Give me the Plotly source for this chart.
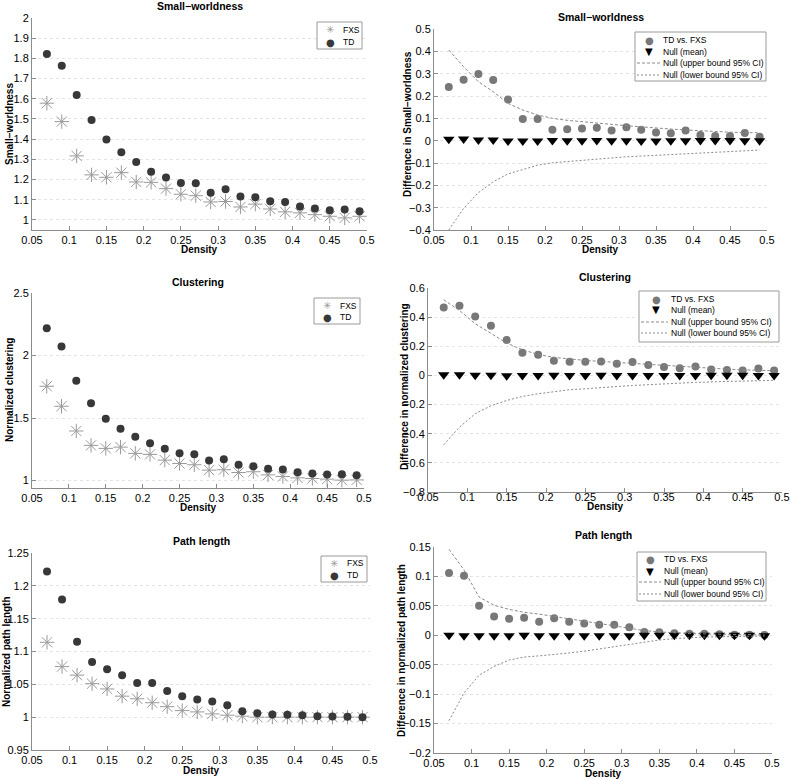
import plotly.graph_objects as go

density = [0.07, 0.09, 0.11, 0.13, 0.15, 0.17, 0.19, 0.21, 0.23, 0.25, 0.27,
           0.29, 0.31, 0.33, 0.35, 0.37, 0.39, 0.41, 0.43, 0.45, 0.47, 0.49]

# Small-worldness
sw_fxs = [1.578, 1.487, 1.317, 1.223, 1.211, 1.234, 1.188, 1.186, 1.155, 1.127, 1.120,
          1.089, 1.091, 1.064, 1.078, 1.054, 1.040, 1.035, 1.026, 1.018, 1.010, 1.018]
sw_td = [1.822, 1.764, 1.619, 1.495, 1.398, 1.335, 1.287, 1.238, 1.210, 1.183, 1.182,
         1.135, 1.152, 1.116, 1.112, 1.092, 1.089, 1.066, 1.056, 1.048, 1.051, 1.043]
sw_diff = [0.240, 0.273, 0.298, 0.272, 0.184, 0.097, 0.097, 0.049, 0.051, 0.054, 0.058,
           0.046, 0.060, 0.049, 0.037, 0.033, 0.046, 0.025, 0.021, 0.021, 0.034, 0.018]
sw_null = [0.006, 0.008, 0.003, 0.003, -0.002, -0.001, -0.002, 0.001, 0.000, 0.000, 0.001,
           0.000, 0.000, -0.001, -0.001, 0.000, 0.000, 0.001, 0.001, 0.001, 0.000, 0.000]
sw_upper = [0.406, 0.331, 0.264, 0.219, 0.167, 0.137, 0.115, 0.100, 0.091, 0.084, 0.078,
            0.073, 0.067, 0.061, 0.057, 0.052, 0.048, 0.044, 0.041, 0.038, 0.036, 0.035]
sw_lower = [-0.400, -0.303, -0.233, -0.184, -0.149, -0.128, -0.110, -0.099, -0.093, -0.088, -0.082,
            -0.075, -0.072, -0.069, -0.066, -0.063, -0.060, -0.057, -0.054, -0.051, -0.045, -0.042]

# Clustering
cl_fxs = [1.754, 1.594, 1.396, 1.281, 1.257, 1.267, 1.217, 1.209, 1.163, 1.136, 1.126,
          1.083, 1.086, 1.064, 1.070, 1.045, 1.032, 1.021, 1.016, 1.011, 1.003, 1.005]
cl_td = [2.219, 2.072, 1.799, 1.618, 1.495, 1.414, 1.350, 1.299, 1.254, 1.219, 1.211,
         1.160, 1.171, 1.126, 1.115, 1.094, 1.088, 1.067, 1.056, 1.048, 1.051, 1.043]
cl_diff = [0.467, 0.478, 0.405, 0.341, 0.243, 0.156, 0.142, 0.101, 0.094, 0.094, 0.096,
           0.080, 0.092, 0.071, 0.057, 0.050, 0.062, 0.041, 0.037, 0.034, 0.048, 0.034]
cl_null = [0.005, 0.005, 0.002, 0.001, -0.002, 0.000, -0.001, 0.001, 0.000, 0.000, 0.001,
           0.000, 0.000, -0.001, -0.001, 0.000, 0.000, 0.001, 0.001, 0.001, 0.000, 0.000]
cl_upper = [0.519, 0.446, 0.355, 0.286, 0.222, 0.176, 0.144, 0.124, 0.112, 0.103, 0.096,
            0.089, 0.082, 0.076, 0.069, 0.062, 0.055, 0.048, 0.043, 0.039, 0.034, 0.032]
cl_lower = [-0.476, -0.355, -0.263, -0.208, -0.172, -0.144, -0.126, -0.110, -0.098, -0.092, -0.082,
            -0.076, -0.069, -0.062, -0.057, -0.053, -0.048, -0.043, -0.041, -0.039, -0.037, -0.034]

# Path length
pl_fxs = [1.114, 1.077, 1.064, 1.051, 1.043, 1.032, 1.028, 1.022, 1.016, 1.010, 1.008,
          1.005, 1.003, 1.0015, 1.000, 1.000, 1.000, 1.000, 1.000, 1.000, 1.000, 1.000]
pl_td = [1.222, 1.179, 1.115, 1.084, 1.073, 1.064, 1.052, 1.052, 1.040, 1.032, 1.027,
         1.024, 1.018, 1.009, 1.006, 1.004, 1.0036, 1.003, 1.0015, 1.001, 1.0005, 1.000]
pl_diff = [0.106, 0.101, 0.050, 0.032, 0.028, 0.030, 0.023, 0.029, 0.023, 0.020, 0.018,
           0.018, 0.0136, 0.0056, 0.005, 0.0034, 0.0028, 0.0028, 0.0017, 0.001, 0.001, 0.0005]
pl_null = [0.000, -0.001, -0.001, -0.001, -0.001, 0.000, -0.001, -0.001, -0.001, -0.001, -0.001,
           -0.001, -0.001, 0.000, 0.000, 0.000, 0.000, 0.000, 0.000, 0.000, 0.000, -0.001]
pl_upper = [0.146, 0.111, 0.065, 0.051, 0.044, 0.039, 0.036, 0.032, 0.027, 0.023, 0.020,
            0.016, 0.012, 0.008, 0.0056, 0.004, 0.003, 0.0023, 0.0017, 0.0012, 0.0008, 0.0006]
pl_lower = [-0.145, -0.098, -0.068, -0.053, -0.042, -0.037, -0.035, -0.033, -0.030, -0.027, -0.023,
            -0.019, -0.016, -0.011, -0.008, -0.0056, -0.004, -0.003, -0.0025, -0.002, -0.0015, -0.0012]

titles = ["Small\u2212worldness", "Small\u2212worldness", "Clustering", "Clustering",
          "Path length", "Path length"]
ylabels = ["Small\u2212worldness", "Difference in Small\u2212worldness",
           "Normalized clustering", "Difference in normalized clustering",
           "Normalized path length", "Difference in normalized path length"]
xlabel = "Density"
left_names = ["FXS", "TD"]
right_names = ["TD vs. FXS", "Null (mean)", "Null (upper bound 95% CI)", "Null (lower bound 95% CI)"]

FONT = "Liberation Sans, Arial, Helvetica, sans-serif"
SYMFONT = "DejaVu Sans, sans-serif"
W, H = 790, 780

C_TD = "#383838"
C_FXS = "#9a9a9a"
C_DIFF = "#787878"
C_NULL = "black"
C_CI = "#8a8a8a"
C_AX = "#8c8c8c"

# panel geometry in window pixels: (left, right, top, bottom)
boxes = [(32, 367, 18, 230), (434, 767, 29, 230),
         (32, 364, 293, 488), (428, 782, 288, 492),
         (32, 370, 553, 750), (434, 772, 547, 753)]
yranges = [[0.95, 2.0], [-0.4, 0.5], [0.94, 2.5], [-0.8, 0.6], [0.95, 1.25], [-0.2, 0.15]]
ydticks = [0.1, 0.1, 0.5, 0.2, 0.05, 0.05]
xlabel_standoff = [0, 0, 0, -5, 0, 0]
title_y = [6, 17, 282, 277, 541, 535]
xlab_y = [250, 250, 507, 506, 770, 773]
ylab_pos = [(10, 124), (408, 124), (9, 390), (404, 386), (6, 652), (401, 651)]

# legend geometry (window px): box (x0, y0, x1, y1), symbol column x, text column x, row centres
legends = [
    dict(box=(317, 22, 362, 49), sx=330, tx=342, rows=[30, 42]),
    dict(box=(635, 32, 766, 81), sx=649, tx=662, rows=[40, 52, 63, 75]),
    dict(box=(314, 298, 360, 324), sx=327, tx=339, rows=[306, 317]),
    dict(box=(639, 291, 779, 342), sx=656, tx=670, rows=[299, 310, 322, 333]),
    dict(box=(321, 556, 367, 582), sx=334, tx=346, rows=[563, 575]),
    dict(box=(637, 552, 766, 601), sx=650, tx=663, rows=[559, 571, 582, 594]),
]

fig = go.Figure()

left_data = [(sw_fxs, sw_td), (cl_fxs, cl_td), (pl_fxs, pl_td)]
right_data = [(sw_diff, sw_null, sw_upper, sw_lower), (cl_diff, cl_null, cl_upper, cl_lower),
              (pl_diff, pl_null, pl_upper, pl_lower)]

for i in range(6):
    ax = "" if i == 0 else str(i + 1)
    xref, yref = "x" + ax, "y" + ax
    if i % 2 == 0:
        fxs, td = left_data[i // 2]
        fig.add_trace(go.Scatter(x=density, y=fxs, mode="markers", name=left_names[0],
                                 marker=dict(symbol="asterisk-open", size=12, color=C_FXS,
                                             line=dict(color=C_FXS, width=1)),
                                 xaxis=xref, yaxis=yref, showlegend=False))
        fig.add_trace(go.Scatter(x=density, y=td, mode="markers", name=left_names[1],
                                 marker=dict(symbol="circle", size=8, color=C_TD),
                                 xaxis=xref, yaxis=yref, showlegend=False))
    else:
        diff, null, up, lo = right_data[i // 2]
        fig.add_trace(go.Scatter(x=density, y=diff, mode="markers", name=right_names[0],
                                 marker=dict(symbol="circle", size=8, color=C_DIFF),
                                 xaxis=xref, yaxis=yref, showlegend=False))
        fig.add_trace(go.Scatter(x=density, y=null, mode="markers", name=right_names[1],
                                 marker=dict(symbol="triangle-down", size=10, color=C_NULL),
                                 xaxis=xref, yaxis=yref, showlegend=False))
        fig.add_trace(go.Scatter(x=density, y=up, mode="lines", name=right_names[2],
                                 line=dict(color=C_CI, width=1, dash="3px,2px"),
                                 xaxis=xref, yaxis=yref, showlegend=False))
        fig.add_trace(go.Scatter(x=density, y=lo, mode="lines", name=right_names[3],
                                 line=dict(color=C_CI, width=1, dash="2px,2px"),
                                 xaxis=xref, yaxis=yref, showlegend=False))

layout = dict(width=W, height=H, margin=dict(l=0, r=0, t=0, b=0, autoexpand=False),
              paper_bgcolor="white", plot_bgcolor="white",
              font=dict(family=FONT, size=11, color="black"), showlegend=False)

annotations = []
shapes = []


def px(x):
    return x / W


def py(y):
    return 1 - y / H


for i in range(6):
    ax = "" if i == 0 else str(i + 1)
    l, r, t, b = boxes[i]
    layout["xaxis" + ax] = dict(
        domain=[px(l), px(r)], range=[0.05, 0.5], dtick=0.05, tick0=0.05,
        anchor="y" + ax, showline=True, linecolor=C_AX, linewidth=1, automargin=False,
        ticks="inside", ticklen=4, tickcolor=C_AX, showgrid=False, zeroline=False,
        ticklabelstandoff=xlabel_standoff[i],
        tickfont=dict(size=11, family=FONT))
    layout["yaxis" + ax] = dict(
        domain=[py(b), py(t)], range=yranges[i], dtick=ydticks[i],
        anchor="x" + ax, showline=True, linecolor=C_AX, linewidth=1, automargin=False,
        ticks="inside", ticklen=4, tickcolor=C_AX, showgrid=True,
        gridcolor="#e4e4e4", griddash="dot", gridwidth=1, zeroline=False,
        tickfont=dict(size=11, family=FONT))
    annotations.append(dict(text=titles[i], x=px((l + r) / 2), y=py(title_y[i]),
                            xref="paper", yref="paper", showarrow=False,
                            xanchor="center", yanchor="middle",
                            font=dict(size=10.5, family=FONT, weight="bold")))
    annotations.append(dict(text=xlabel, x=px((l + r) / 2), y=py(xlab_y[i]),
                            xref="paper", yref="paper", showarrow=False,
                            xanchor="center", yanchor="middle", borderpad=0,
                            font=dict(size=10, family=FONT, weight="bold")))
    yx, yy = ylab_pos[i]
    annotations.append(dict(text=ylabels[i], x=px(yx), y=py(yy), textangle=-90,
                            xref="paper", yref="paper", showarrow=False,
                            xanchor="center", yanchor="middle",
                            font=dict(size=10, family=FONT, weight="bold")))

    # legend
    lg = legends[i]
    x0, y0, x1, y1 = lg["box"]
    shapes.append(dict(type="rect", xref="paper", yref="paper",
                       x0=px(x0), x1=px(x1), y0=py(y1), y1=py(y0),
                       line=dict(color="#9a9a9a", width=1), fillcolor="white", layer="above"))
    if i % 2 == 0:
        kinds = [("\u2733", C_FXS, 10), ("\u25CF", C_TD, 10)]
        names = left_names
    else:
        kinds = [("\u25CF", C_DIFF, 10), ("\u25BC", C_NULL, 10), ("dash", C_CI, 0), ("dot", C_CI, 0)]
        names = right_names
    for (sym, col, sz), name, ry in zip(kinds, names, lg["rows"]):
        if sym in ("dash", "dot"):
            shapes.append(dict(type="line", xref="paper", yref="paper",
                               x0=px(x0 + 2), x1=px(lg["tx"] - 2), y0=py(ry), y1=py(ry),
                               line=dict(color=col, width=1,
                                         dash="3px,2px" if sym == "dash" else "2px,2px"),
                               layer="above"))
        else:
            annotations.append(dict(text=sym, x=px(lg["sx"]), y=py(ry),
                                    xref="paper", yref="paper", showarrow=False,
                                    xanchor="center", yanchor="middle", borderpad=0,
                                    font=dict(size=sz, family=SYMFONT, color=col)))
        annotations.append(dict(text=name, x=px(lg["tx"]), y=py(ry),
                                xref="paper", yref="paper", showarrow=False,
                                xanchor="left", yanchor="middle", borderpad=0,
                                font=dict(size=8.5, family=FONT, color="black")))

layout["annotations"] = annotations
layout["shapes"] = shapes
fig.update_layout(**layout)
fig.write_html("out.html", config={"displayModeBar": False},
               post_script="document.body.style.margin='0';document.body.style.padding='0';")
